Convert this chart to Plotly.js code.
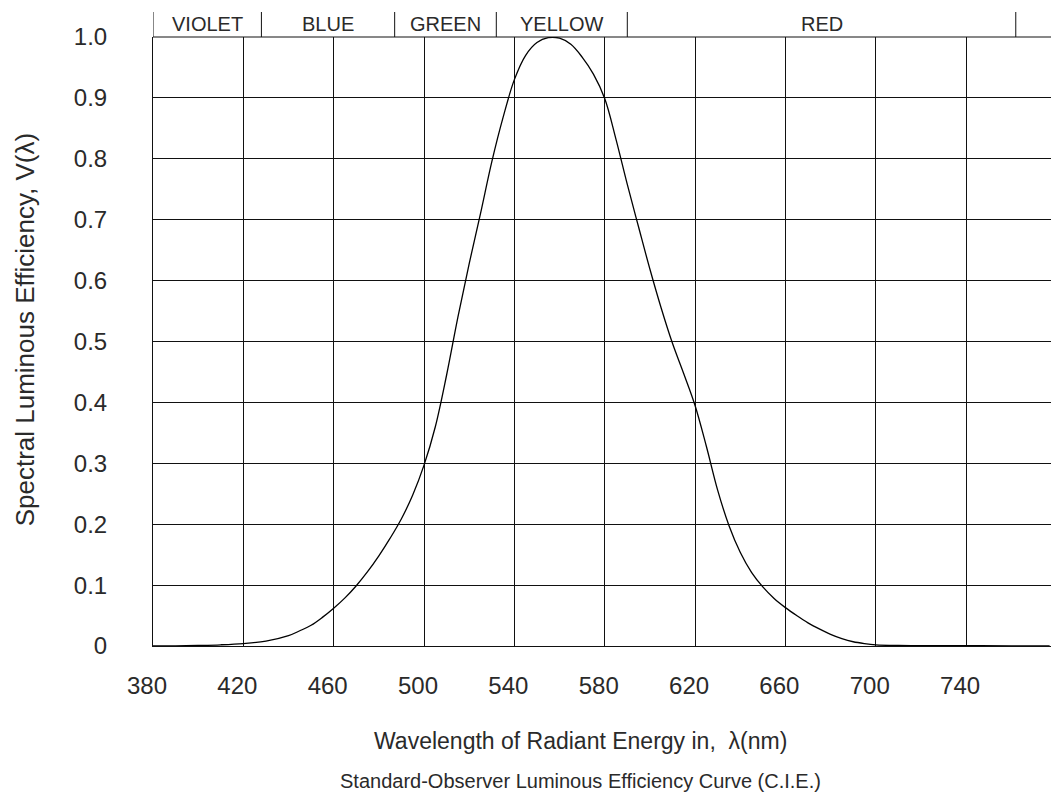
<!DOCTYPE html>
<html>
<head>
<meta charset="utf-8">
<script src="https://cdn.plot.ly/plotly-3.0.1.min.js"></script>
<style>html,body{margin:0;padding:0;background:#fff;}#chart{width:1051px;height:799px;}</style>
</head>
<body>
<div id="chart"></div>
<script>
// Wavelength (nm) and spectral luminous efficiency V(λ)
var wavelength = [380, 390, 400, 410, 420, 430, 440, 445, 450, 455, 460, 465, 470, 475, 480, 485, 490, 495, 500,
  505, 510, 515, 520, 525, 530, 535, 540, 545, 550, 555, 560, 565, 570, 575, 580, 585, 590, 595, 600,
  605, 610, 615, 620, 625, 630, 635, 640, 645, 650, 655, 660, 665, 670, 675, 680, 685, 690, 695, 700,
  710, 720, 740, 760, 777];
var efficiency = [0.000, 0.0003, 0.001, 0.002, 0.004, 0.008, 0.017, 0.025, 0.034, 0.047, 0.062, 0.079, 0.099, 0.122, 0.148, 0.177, 0.209, 0.248, 0.297,
  0.360, 0.445, 0.540, 0.628, 0.710, 0.795, 0.868, 0.930, 0.970, 0.991, 0.999, 0.998, 0.988, 0.967, 0.939, 0.899, 0.832, 0.758, 0.688, 0.619,
  0.555, 0.497, 0.447, 0.395, 0.328, 0.256, 0.198, 0.154, 0.121, 0.097, 0.078, 0.063, 0.050, 0.038, 0.028, 0.019, 0.012, 0.007, 0.004, 0.002,
  0.0008, 0.0005, 0.0005, 0.0002, 0.0];

// Colour bands along the top
var bandNames = ["VIOLET", "BLUE", "GREEN", "YELLOW", "RED"];
var bandEdges = [380, 428, 487, 532, 590, 762];

var xTicks = [380, 420, 460, 500, 540, 580, 620, 660, 700, 740];
var yTicks = [0, 0.1, 0.2, 0.3, 0.4, 0.5, 0.6, 0.7, 0.8, 0.9, 1.0];
var yTickText = ["0", "0.1", "0.2", "0.3", "0.4", "0.5", "0.6", "0.7", "0.8", "0.9", "1.0"];

var xTitle = "Wavelength of Radiant Energy in,  λ(nm)";
var yTitle = "Spectral Luminous Efficiency, V(λ)";
var caption = "Standard-Observer Luminous Efficiency Curve (C.I.E.)";

var FONT = "Liberation Sans, Arial, Helvetica, sans-serif";
var INK = "#2a2a2a";
var LINE = "#111";
var bandTop = 1 + 25 / 609;

var shapes = [];
bandEdges.forEach(function (e) {
  shapes.push({type: "line", xref: "x", yref: "paper", x0: e, x1: e, y0: 1, y1: bandTop,
    line: {color: LINE, width: 1}});
});
shapes.push({type: "line", xref: "paper", yref: "paper", x0: 0, x1: 1, y0: 1, y1: 1,
  line: {color: LINE, width: 1}});

var annotations = [];
bandNames.forEach(function (n, i) {
  annotations.push({text: n, xref: "x", yref: "paper", x: (bandEdges[i] + bandEdges[i + 1]) / 2,
    y: (1 + bandTop) / 2, showarrow: false, xanchor: "center", yanchor: "middle",
    font: {family: FONT, size: 20, color: INK}});
});
annotations.push({text: xTitle, xref: "paper", yref: "paper", x: 0.4766, y: -0.156,
  showarrow: false, xanchor: "center", yanchor: "middle", font: {family: FONT, size: 23, color: INK}});
annotations.push({text: caption, xref: "paper", yref: "paper", x: 0.4766, y: -0.2217,
  showarrow: false, xanchor: "center", yanchor: "middle", font: {family: FONT, size: 20, color: INK}});
annotations.push({text: yTitle, xref: "paper", yref: "paper", x: -0.1425, y: 0.52, textangle: -90,
  showarrow: false, xanchor: "center", yanchor: "middle", font: {family: FONT, size: 26, color: INK}});

var trace = {
  x: wavelength, y: efficiency, type: "scatter", mode: "lines",
  line: {color: "#000", width: 1.3, shape: "spline", smoothing: 1},
  hoverinfo: "x+y"
};

var layout = {
  width: 1051, height: 799,
  margin: {l: 153, r: 0, t: 37, b: 153, pad: 0},
  paper_bgcolor: "#fff", plot_bgcolor: "#fff",
  showlegend: false,
  font: {family: FONT, color: INK},
  xaxis: {
    range: [380, 777.6], tickmode: "array", tickvals: xTicks, ticktext: xTicks.map(String),
    showgrid: true, gridcolor: LINE, gridwidth: 1, zeroline: false,
    showline: true, linecolor: LINE, linewidth: 1, ticks: "",
    ticklabelstandoff: 18, ticklabelshift: -6,
    tickfont: {family: FONT, size: 24, color: INK}
  },
  yaxis: {
    range: [0, 1], tickmode: "array", tickvals: yTicks, ticktext: yTickText,
    showgrid: true, gridcolor: LINE, gridwidth: 1, zeroline: false,
    showline: true, linecolor: LINE, linewidth: 1, ticks: "",
    ticklabelstandoff: 40,
    tickfont: {family: FONT, size: 24, color: INK}
  },
  shapes: shapes,
  annotations: annotations
};

Plotly.newPlot("chart", [trace], layout, {displayModeBar: false, staticPlot: true});
</script>
</body>
</html>
